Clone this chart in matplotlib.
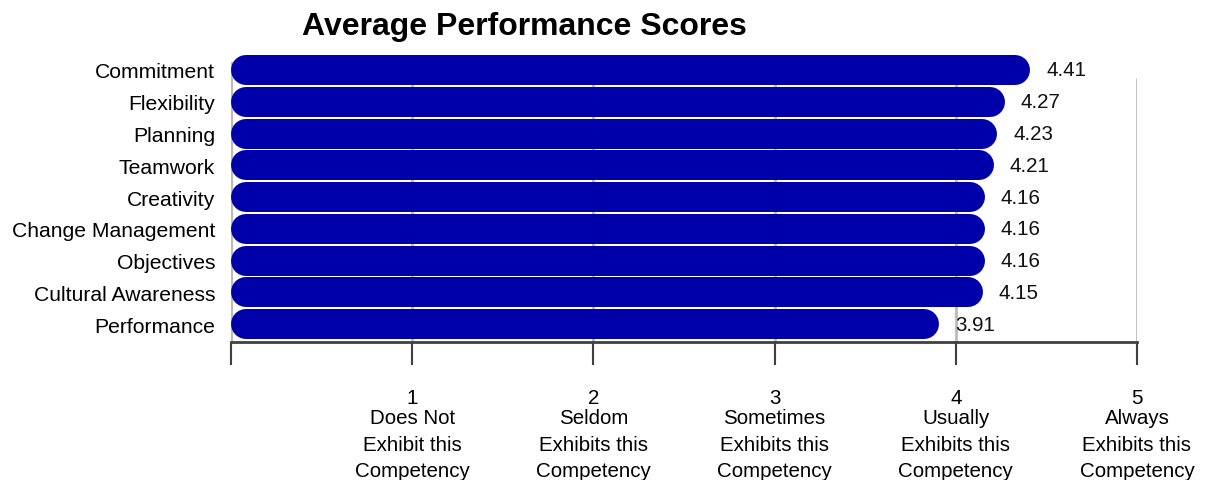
import matplotlib.pyplot as plt

# data
categories = ['Commitment', 'Flexibility', 'Planning', 'Teamwork', 'Creativity',
              'Change Management', 'Objectives', 'Cultural Awareness', 'Performance']
scores = [4.41, 4.27, 4.23, 4.21, 4.16, 4.16, 4.16, 4.15, 3.91]
scale_ticks = [0, 1, 2, 3, 4, 5]
scale_numbers = ['', '1', '2', '3', '4', '5']
scale_desc = ['', 'Does Not\nExhibit this\nCompetency',
              'Seldom\nExhibits this\nCompetency',
              'Sometimes\nExhibits this\nCompetency',
              'Usually\nExhibits this\nCompetency',
              'Always\nExhibits this\nCompetency']

plt.rcParams['font.family'] = ['Liberation Sans', 'DejaVu Sans']
fs = 14.8

W, H = 1210, 481
fig = plt.figure(figsize=(W / 100, H / 100), dpi=100)
# axes box in pixels: x 231..1137, y 55..342.7
top_px, bot_px = 55.1, 342.7
ax = fig.add_axes([231 / W, (H - bot_px) / H, 906 / W, (bot_px - top_px) / H])
ax.set_xlim(0, 5)
ax.set_ylim(8.55, -0.5)

# pixels per data unit
px_x = 906 / 5.0
px_y = (bot_px - top_px) / 9.05

bar_h = 0.944
bar_color = '#0000AA'

# grid lines (behind bars)
ax.vlines([1, 2, 3, 4, 5], ymin=8.55, ymax=0.25, color='#BBBBBB', lw=2, zorder=1)
ax.vlines([0], ymin=8.55, ymax=-0.25, color='#BBBBBB', lw=3, zorder=1)

# bars as thick lines with round caps
bar_px = bar_h * px_y
r = bar_px / 2 / px_x
for i, v in enumerate(scores):
    ax.plot([r, v - r], [i, i], color=bar_color, lw=bar_px * 0.72,
            solid_capstyle='round', zorder=2)
    ax.text(v + 16 / px_x, i, '%.2f' % v, va='center', ha='left',
            fontsize=fs, color='#111111', zorder=3)

ax.set_yticks(range(len(categories)))
ax.set_yticklabels(categories, fontsize=15.2)
ax.tick_params(axis='y', length=0, pad=11.5)

ax.set_xticks(scale_ticks)
ax.set_xticklabels(scale_numbers, fontsize=fs)
ax.tick_params(axis='x', direction='out', length=16.5, width=1.5,
               color='#404040', pad=17)
for x, d in zip(scale_ticks, scale_desc):
    ax.annotate(d, xy=(x, 0), xycoords=('data', 'axes fraction'),
                xytext=(0, -48), textcoords='offset points',
                ha='center', va='top', fontsize=fs, linespacing=1.5)

for s in ['top', 'right', 'left']:
    ax.spines[s].set_visible(False)
ax.spines['bottom'].set_color('#404040')
ax.spines['bottom'].set_linewidth(2)

fig.text(524 / W, 1 - 35 / H, 'Average Performance Scores', ha='center',
         va='baseline', fontsize=23, fontweight='bold')

fig.savefig('out.png', dpi=100)
